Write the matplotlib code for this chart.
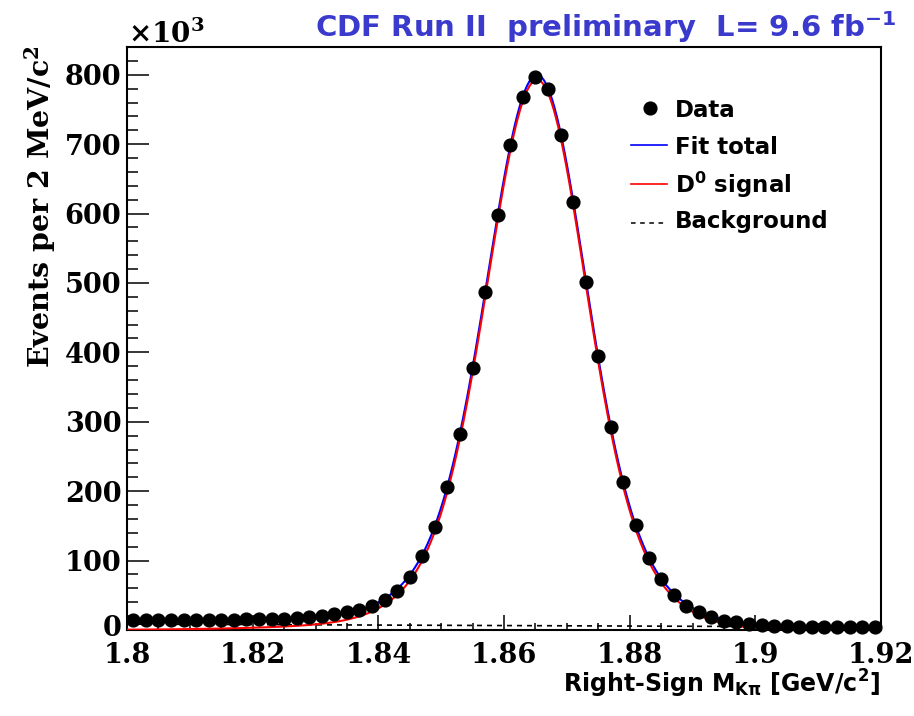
import numpy as np
import matplotlib
matplotlib.use("Agg")
import matplotlib.pyplot as plt
from matplotlib.ticker import MultipleLocator, FuncFormatter
from matplotlib.transforms import ScaledTranslation

# Right-sign D0 -> K pi mass spectrum, 2 MeV/c^2 bins, counts in units of 10^3
mass_lo = 1.80
mass_hi = 1.92
bin_width = 0.002
counts = [
    15.0, 15.0, 15.0, 14.9, 15.0, 15.0, 15.0, 15.0, 15.1, 15.2,
    15.4, 15.6, 16.0, 17.0, 18.2, 20.0, 22.6, 25.5, 28.8, 34.6,
    43.0, 56.0, 77.0, 106.0, 149.0, 206.0, 282.0, 377.0, 487.0, 598.0,
    699.0, 768.0, 797.0, 779.0, 713.0, 617.0, 501.0, 395.0, 293.0, 213.0,
    151.0, 104.0, 74.0, 51.0, 35.0, 25.5, 18.3, 13.4, 11.5, 8.6,
    6.7, 5.8, 5.2, 5.0, 4.9, 4.8, 4.8, 4.7, 4.7, 4.7,
]

# Fit model parameters (mass in GeV/c^2, amplitudes in 10^3 events per bin)
peak_mass = 1.8653
core_amp = 548.0
core_sigma_low = 0.0073
core_sigma_high = 0.0071
wide_amp = 237.0
wide_sigma = 0.0115
tail_amp = 10.0
tail_shift = -0.015
tail_sigma = 0.020
bkg_at_edges = [8.5, 4.3]
reflection_amp = 6.0
reflection_scale = 0.030

x_ticks = [1.80, 1.82, 1.84, 1.86, 1.88, 1.90, 1.92]
y_ticks = [0, 100, 200, 300, 400, 500, 600, 700, 800]

plt.rcParams["font.family"] = "DejaVu Serif"
plt.rcParams["font.weight"] = "bold"

bin_centers = mass_lo + bin_width * (np.arange(len(counts)) + 0.5)


def gauss(m, amp, mu, s_lo, s_hi):
    s = np.where(m < mu, s_lo, s_hi)
    return amp * np.exp(-0.5 * ((m - mu) / s) ** 2)


def signal_model(m):
    core = gauss(m, core_amp, peak_mass, core_sigma_low, core_sigma_high)
    wide = gauss(m, wide_amp, peak_mass, wide_sigma, wide_sigma)
    tail = gauss(m, tail_amp, peak_mass + tail_shift, tail_sigma, tail_sigma)
    return core + wide + tail


def background_model(m):
    frac = (m - mass_lo) / (mass_hi - mass_lo)
    return bkg_at_edges[0] + (bkg_at_edges[1] - bkg_at_edges[0]) * frac


def reflection_model(m):
    return reflection_amp * np.exp(-(m - mass_lo) / reflection_scale)


mgrid = np.linspace(mass_lo, mass_hi, 1201)
sig = signal_model(mgrid)
bkg = background_model(mgrid)
total = sig + bkg + reflection_model(mgrid)

W, H = 914, 716
fig = plt.figure(figsize=(W / 100, H / 100), dpi=100)
ax = fig.add_axes([127 / W, 1 - 630 / H, (881 - 127) / W, (630 - 47) / H])

ax.plot(mgrid, bkg, color="black", lw=1.2, ls=(0, (3, 3)), zorder=2)
ax.plot(mgrid, total, color="#0000ff", lw=1.5, zorder=3)
ax.plot(mgrid, sig, color="#ff0000", lw=1.5, zorder=3)
ax.plot(bin_centers, counts, "o", color="black", ms=9.2, zorder=4, clip_on=False)

ax.set_xlim(mass_lo, mass_hi)
ax.set_ylim(0, 840)
ax.set_xticks(x_ticks)
ax.set_yticks(y_ticks)
ax.xaxis.set_minor_locator(MultipleLocator(0.005))
ax.yaxis.set_minor_locator(MultipleLocator(20))
ax.xaxis.set_major_formatter(FuncFormatter(lambda v, p: f"{v:g}"))
ax.yaxis.set_major_formatter(FuncFormatter(lambda v, p: f"{v:g}"))
ax.tick_params(which="both", direction="in", top=False, right=False,
               width=1.1, labelsize=19.5)
ax.tick_params(axis="x", which="major", length=10.8, pad=8.5)
ax.tick_params(axis="x", which="minor", length=5.2)
ax.tick_params(axis="y", which="major", length=16, pad=4)
ax.tick_params(axis="y", which="minor", length=8)
for sp in ax.spines.values():
    sp.set_linewidth(1.5)

# lift the "0" label slightly so it clears the first mass label
zero_label = ax.yaxis.get_major_ticks()[0].label1
zero_label.set_transform(zero_label.get_transform()
                         + ScaledTranslation(0, 4 / 100, fig.dpi_scale_trans))

sans = dict(family="DejaVu Sans", weight="bold")

# Title and axis labels
fig.text(896 / W, 1 - 37 / H, r"CDF Run II  preliminary  L= 9.6 fb$^{\mathbf{-1}}$",
         ha="right", va="baseline", color="#3a3acc", fontsize=21,
         math_fontfamily="dejavusans", **sans)
fig.text(128 / W, 1 - 42.7 / H, r"$\times\mathbf{10^{3}}$", ha="left",
         va="baseline", fontsize=20, math_fontfamily="dejavuserif")
fig.text(880 / W, 1 - 692.5 / H,
         r"Right-Sign M$_{\mathbf{K\pi}}$ [GeV/c$^{\mathbf{2}}$]",
         ha="right", va="baseline", fontsize=17, math_fontfamily="dejavusans", **sans)
fig.text(40 / W, 1 - 45 / H, r"Events per 2 MeV/c$^{\mathbf{2}}$", rotation=90,
         ha="center", va="top", fontsize=20.5, family="DejaVu Serif", weight="bold",
         math_fontfamily="dejavuserif")

# Legend
def ax_y(py):
    return (630 - py) / 583


def ax_x(px):
    return (px - 127) / 754


tr = ax.transAxes
ax.plot([ax_x(650)], [ax_y(107.7)], "o", color="black", ms=9.2, transform=tr)
ax.plot([ax_x(631), ax_x(667)], [ax_y(145)] * 2, color="#0000ff", lw=1.2, transform=tr)
ax.plot([ax_x(631), ax_x(667)], [ax_y(184.3)] * 2, color="#ff0000", lw=1.2, transform=tr)
ax.plot([ax_x(631), ax_x(667)], [ax_y(223.3)] * 2, color="black", lw=1.1,
        ls=(0, (3, 3)), transform=tr)
legend_labels = ["Data", "Fit total", r"D$^{\mathbf{0}}$ signal", "Background"]
legend_baselines = [116.7, 154.0, 192.7, 228.3]
for lab, yb in zip(legend_labels, legend_baselines):
    ax.text(ax_x(675), ax_y(yb), lab, transform=tr, ha="left", va="baseline",
            fontsize=16.5, math_fontfamily="dejavusans", **sans)

fig.savefig("out.png", dpi=100)
